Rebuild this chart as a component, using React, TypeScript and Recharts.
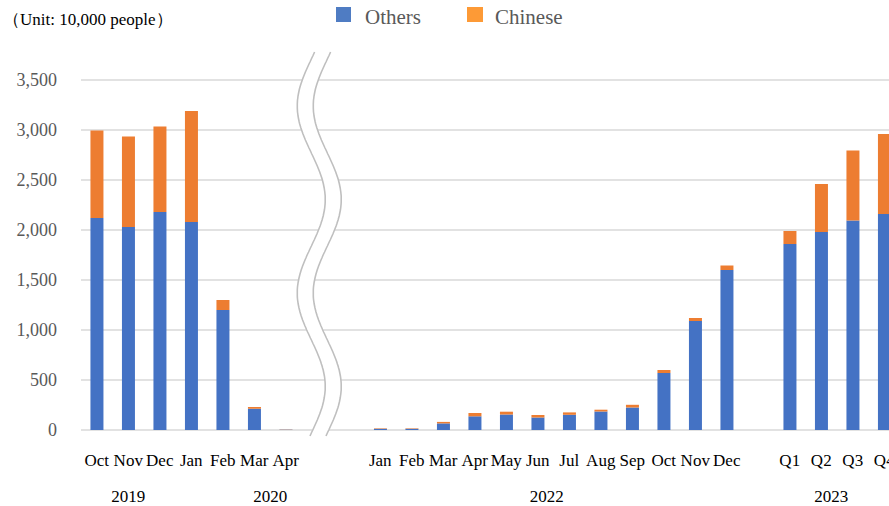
import React from 'react';
import { BarChart, Bar, XAxis, YAxis, CartesianGrid, ReferenceLine } from 'recharts';

// one slot per category; the gap-* slots stay empty to open space on the axis
const slotKeys = [
  '2019-10', '2019-11', '2019-12', '2020-01', '2020-02', '2020-03', '2020-04',
  'gap-a', 'gap-b',
  '2022-01', '2022-02', '2022-03', '2022-04', '2022-05', '2022-06',
  '2022-07', '2022-08', '2022-09', '2022-10', '2022-11', '2022-12',
  'gap-c',
  '2023-Q1', '2023-Q2', '2023-Q3', '2023-Q4',
];

const monthLabels = [
  'Oct', 'Nov', 'Dec', 'Jan', 'Feb', 'Mar', 'Apr',
  '', '',
  'Jan', 'Feb', 'Mar', 'Apr', 'May', 'Jun', 'Jul', 'Aug', 'Sep', 'Oct', 'Nov', 'Dec',
  '',
  'Q1', 'Q2', 'Q3', 'Q4',
];

const othersValues = [
  2120, 2030, 2180, 2080, 1200, 212, 3,
  null, null,
  12, 12, 66, 137, 155, 125, 152, 185, 225, 570, 1090, 1600,
  null,
  1860, 1980, 2095, 2160,
];

const chineseValues = [
  875, 905, 855, 1110, 100, 18, 2,
  null, null,
  5, 5, 15, 33, 28, 25, 24, 18, 27, 30, 30, 45,
  null,
  130, 480, 700, 800,
];

const yTicks = [0, 500, 1000, 1500, 2000, 2500, 3000, 3500];

// year captions sit under a chosen slot, nudged sideways by a few pixels
const yearLabels = [
  { key: '2019-11', text: '2019', shift: 0 },
  { key: '2020-03', text: '2020', shift: 16 },
  { key: '2022-06', text: '2022', shift: 9 },
  { key: '2023-Q2', text: '2023', shift: 10 },
];

const rows = slotKeys.map((key, i) => ({
  key,
  others: othersValues[i],
  chinese: chineseValues[i],
}));

const FONT = 'Liberation Serif';
const BLUE = '#4472C4';
const ORANGE = '#ED7D31';

const MonthTick = (props: any) => {
  const { x, y, payload } = props;
  const i = slotKeys.indexOf(payload.value);
  const year = yearLabels.find((yl) => yl.key === payload.value);
  return (
    <g>
      <text x={x} y={y + 36} textAnchor="middle" fill="#000" fontSize={17} fontFamily={FONT}>
        {monthLabels[i]}
      </text>
      {year && (
        <text x={x + year.shift} y={y + 72} textAnchor="middle" fill="#000" fontSize={17} fontFamily={FONT}>
          {year.text}
        </text>
      )}
    </g>
  );
};

// double wavy line marking the skipped period on the axis
const BreakMark = (props: any) => {
  const vb = props.viewBox;
  if (!vb) return null;
  const cx = vb.x - 6;
  const top = vb.y - 28;
  const bottom = vb.y + vb.height + 7;
  const phase = vb.y + 72.75;
  const left: [number, number][] = [];
  for (let y = top; y <= bottom; y += 2) {
    left.push([cx + 14 * Math.sin((2 * Math.PI * (y - phase)) / 187), y]);
  }
  const right = left.map(([px, py]) => [px + 16, py] as [number, number]);
  const toPath = (pts: [number, number][]) =>
    pts.map(([px, py], i) => `${i ? 'L' : 'M'}${px.toFixed(1)},${py.toFixed(1)}`).join(' ');
  const band = toPath([...left, ...right.slice().reverse()]) + ' Z';
  return (
    <g>
      <path d={band} fill="#fff" stroke="none" />
      <path d={toPath(left)} fill="none" stroke="#bfbfbf" strokeWidth={1.6} />
      <path d={toPath(right)} fill="none" stroke="#bfbfbf" strokeWidth={1.6} />
    </g>
  );
};

export default function App() {
  return (
    <div
      style={{
        position: 'fixed',
        left: 0,
        top: 0,
        width: 889,
        height: 506,
        overflow: 'hidden',
        background: '#fff',
        fontFamily: FONT,
      }}
    >
      <BarChart
        width={900}
        height={506}
        data={rows}
        margin={{ top: 80, right: 0, bottom: 0, left: 0 }}
        barCategoryGap="30%"
      >
        <CartesianGrid vertical={false} stroke="#d9d9d9" strokeWidth={1.5} />
        <XAxis
          dataKey="key"
          interval={0}
          height={76}
          axisLine={false}
          tickLine={false}
          tickSize={0}
          tickMargin={0}
          tick={MonthTick}
        />
        <YAxis
          width={81}
          domain={[0, 3500]}
          ticks={yTicks}
          axisLine={false}
          tickLine={false}
          tickSize={0}
          tickMargin={24}
          tick={{ fill: '#595959', fontSize: 18, fontFamily: FONT }}
          tickFormatter={(v: number) => v.toLocaleString('en-US')}
        />
        <Bar dataKey="others" stackId="total" fill={BLUE} isAnimationActive={false} />
        <Bar dataKey="chinese" stackId="total" fill={ORANGE} isAnimationActive={false} />
        <ReferenceLine x="gap-a" stroke="none" label={BreakMark} />
      </BarChart>

      <svg width={889} height={40} style={{ position: 'absolute', left: 0, top: 0 }}>
        <text x={3} y={25} fontSize={17} fill="#000" fontFamily={FONT}>
          （Unit: 10,000 people）
        </text>
        <rect x={336} y={7} width={15} height={15} fill="#4f7cc3" />
        <text x={365} y={24} fontSize={21} fill="#595959" fontFamily={FONT}>
          Others
        </text>
        <rect x={467} y={7} width={16} height={15} fill="#fd9a36" />
        <text x={495} y={24} fontSize={21} fill="#595959" fontFamily={FONT}>
          Chinese
        </text>
      </svg>
    </div>
  );
}
